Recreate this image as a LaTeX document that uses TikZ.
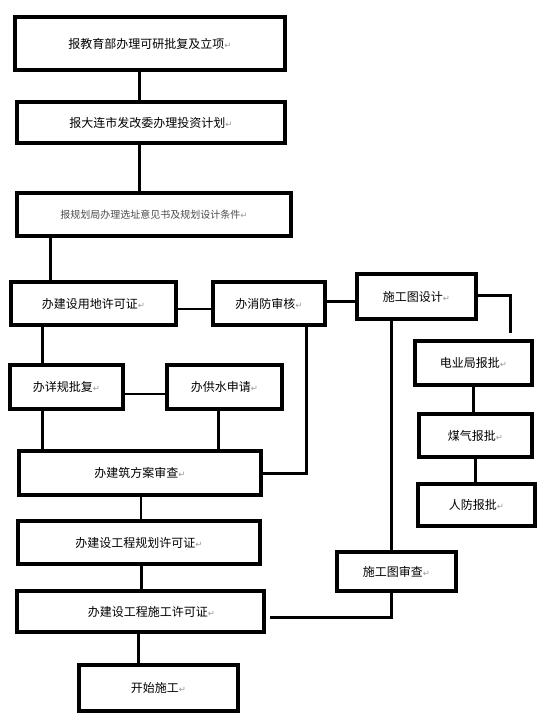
\documentclass[tikz,border=0pt]{standalone}
\usepackage{fontspec}
\setmainfont{Noto Sans CJK SC}
\newfontfamily\symfont{DejaVu Sans}
% paragraph mark after each label
\newcommand{\retmark}{{\color{gray!80}\symfont\fontsize{8.5pt}{8.5pt}\selectfont ↵}}

\begin{document}
\begin{tikzpicture}[x=1pt, y=-1pt,
    box/.style={draw, line width=3.5pt, fill=white, inner sep=0pt, font=\fontsize{12pt}{14pt}\selectfont},
    link/.style={line width=3pt},
    slim/.style={line width=2pt}]
    \useasboundingbox (0,0) rectangle (553,724);
    % main column
    \node[box, minimum width=270pt, minimum height=53pt] (b1) at (150,43.5) {报教育部办理可研批复及立项\retmark};
    \node[box, minimum width=268pt, minimum height=41pt] (b2) at (151,122.5) {报大连市发改委办理投资计划\retmark};
    \node[box, minimum width=274pt, minimum height=43pt, font=\fontsize{10pt}{12pt}\selectfont, text=black!70] (b3) at (154,214.5) {报规划局办理选址意见书及规划设计条件\retmark};
    \node[box, minimum width=165pt, minimum height=43pt] (b4) at (93.5,303.5) {办建设用地许可证\retmark};
    \node[box, minimum width=112pt, minimum height=43pt] (b5) at (269,303.5) {办消防审核\retmark};
    \node[box, minimum width=113pt, minimum height=44pt] (b10) at (66.5,387) {办详规批复\retmark};
    \node[box, minimum width=115pt, minimum height=44pt] (b11) at (224.5,387) {办供水申请\retmark};
    \node[box, minimum width=242pt, minimum height=44pt] (b12) at (140,473) {办建筑方案审查\retmark};
    \node[box, minimum width=242pt, minimum height=43pt] (b13) at (139,542.5) {办建设工程规划许可证\retmark};
    \node[box, minimum width=247pt, minimum height=41pt] (b14) at (140.5,611.5) {\hspace*{22pt}办建设工程施工许可证\retmark};
    \node[box, minimum width=159pt, minimum height=46pt] (b15) at (158.5,688) {开始施工\retmark};
    % right side
    \node[box, minimum width=119pt, minimum height=45pt] (b6) at (416.5,296.5) {施工图设计\retmark};
    \node[box, minimum width=117pt, minimum height=44pt] (b7) at (473.5,363) {电业局报批\retmark};
    \node[box, minimum width=113pt, minimum height=43pt] (b8) at (475.5,435.5) {煤气报批\retmark};
    \node[box, minimum width=117pt, minimum height=42pt] (b9) at (476.5,505) {人防报批\retmark};
    \node[box, minimum width=119pt, minimum height=39pt] (b16) at (396.5,571.5) {施工图审查\retmark};
    % free ends
    \coordinate (e1) at (510,333);
    \coordinate (e2) at (270,617);
    % connectors
    \draw[link] ([xshift=-11pt]b1.south) -- ([xshift=-12pt]b2.north);
    \draw[link] ([xshift=-12pt]b2.south) -- ([xshift=-15pt]b3.north);
    \draw[link] ([xshift=-104pt]b3.south) -- ([xshift=-43.5pt]b4.north);
    \draw[slim] ([yshift=-5.5pt]b4.east) -- ([yshift=-5.5pt]b5.west);
    \draw[link] ([yshift=2.5pt]b5.east) -- ([yshift=-4.5pt]b6.west);
    \draw[link] ([yshift=1.5pt]b6.east) -| (e1);
    \draw[link] (b7.south) -- (b7.south |- b8.north);
    \draw[link] (b8.south) -- (b8.south |- b9.north);
    \draw[link] ([xshift=37pt]b5.south) |- (b12.east);
    \draw[link] ([xshift=-25pt]b6.south) -- ([xshift=-5pt]b16.north);
    \draw[link] ([xshift=-5pt]b16.south) |- (e2);
    \draw[link] ([xshift=-51.5pt]b4.south) -- ([xshift=-24.5pt]b10.north);
    \draw[slim] ([yshift=-7pt]b10.east) -- ([yshift=-7pt]b11.west);
    \draw[link] ([xshift=-24.5pt]b10.south) -- ([xshift=-98pt]b12.north);
    \draw[link] ([xshift=-6.5pt]b11.south) -- ([xshift=78pt]b12.north);
    \draw[slim] ([xshift=1pt]b12.south) -- ([xshift=2pt]b13.north);
    \draw[link] ([xshift=2pt]b13.south) -- ([xshift=0.5pt]b14.north);
    \draw[link] ([xshift=-2.5pt]b14.south) -- ([xshift=-20.5pt]b15.north);
\end{tikzpicture}
\end{document}
